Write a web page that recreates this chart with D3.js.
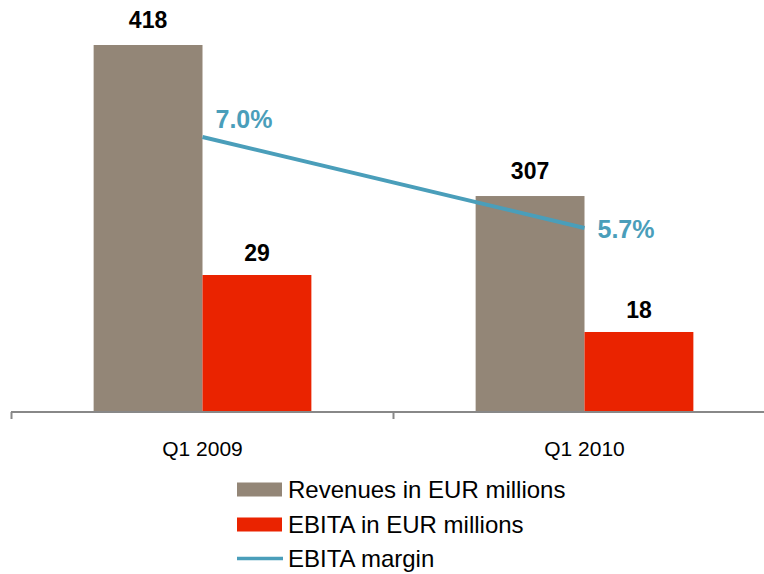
<!DOCTYPE html>
<html>

<head>
  <meta charset="utf-8">
  <title>Revenues and EBITA</title>
  <style>
    body { margin: 0; background: #fff; }
    text { font-family: "Liberation Sans", Arial, sans-serif; }
  </style>
</head>

<body>
  <script src="https://d3js.org/d3.v7.min.js" charset="utf-8"></script>
  <script type="text/javascript">
    var categories = ['Q1 2009', 'Q1 2010'];
    var revenues = [418, 307];
    var ebita = [29, 18];
    var margin = [7.0, 5.7];
    var marginLabels = ['7.0%', '5.7%'];
    var legendLabels = ['Revenues in EUR millions', 'EBITA in EUR millions', 'EBITA margin'];

    var svgW = 764;
    var svgH = 574;
    var baseY = 411;
    var grey = '#938677';
    var red = '#EA2300';
    var blue = '#4A9EBA';

    var svg = d3.select('body').append('svg')
      .attr('width', svgW).attr('height', svgH);

    // category bands, the second one runs past the right edge like the original
    var x = d3.scaleBand().domain(categories).range([11.5, 775.5])
      .paddingInner(0.43).paddingOuter(0.215);
    var x1 = d3.scaleBand().domain(['rev', 'ebita']).range([0, x.bandwidth()]);

    // each series sits on its own truncated axis
    var yRev = d3.scaleLinear().domain([149, 418]).range([baseY, 45]);
    var yEbita = d3.scaleLinear().domain([2.75, 29]).range([baseY, 275]);
    var yMargin = d3.scaleLinear().domain([5.7, 7.0]).range([228, 137]);

    var groups = svg.selectAll('g.grp').data(categories).enter().append('g')
      .attr('class', 'grp')
      .attr('transform', function(d) { return 'translate(' + x(d) + ',0)'; });

    groups.append('rect')
      .attr('x', x1('rev'))
      .attr('width', x1.bandwidth())
      .attr('y', function(d, i) { return yRev(revenues[i]); })
      .attr('height', function(d, i) { return baseY - yRev(revenues[i]); })
      .attr('fill', grey);

    groups.append('rect')
      .attr('x', x1('ebita'))
      .attr('width', x1.bandwidth())
      .attr('y', function(d, i) { return yEbita(ebita[i]); })
      .attr('height', function(d, i) { return baseY - yEbita(ebita[i]); })
      .attr('fill', red);

    // value labels
    groups.append('text')
      .text(function(d, i) { return revenues[i]; })
      .attr('x', x1('rev') + x1.bandwidth() / 2)
      .attr('y', function(d, i) { return yRev(revenues[i]) - 17; })
      .attr('text-anchor', 'middle').attr('font-weight', 'bold').attr('font-size', '23px').attr('fill', '#000');

    groups.append('text')
      .text(function(d, i) { return ebita[i]; })
      .attr('x', x1('ebita') + x1.bandwidth() / 2)
      .attr('y', function(d, i) { return yEbita(ebita[i]) - 14; })
      .attr('text-anchor', 'middle').attr('font-weight', 'bold').attr('font-size', '23px').attr('fill', '#000');

    // axis: line, ticks on band boundaries, labels at centres
    var axisG = svg.append('g');
    axisG.append('line')
      .attr('x1', 11).attr('x2', svgW).attr('y1', 412).attr('y2', 412)
      .attr('stroke', '#888').attr('stroke-width', 2);
    axisG.selectAll('line.tick').data(categories).enter().append('line')
      .attr('class', 'tick')
      .attr('x1', function(d) { return x(d) - x.step() * 0.215; })
      .attr('x2', function(d) { return x(d) - x.step() * 0.215; })
      .attr('y1', 412).attr('y2', 419)
      .attr('stroke', '#888').attr('stroke-width', 2);
    axisG.selectAll('text').data(categories).enter().append('text')
      .text(function(d) { return d; })
      .attr('x', function(d) { return x(d) + x.bandwidth() / 2; })
      .attr('y', 456)
      .attr('text-anchor', 'middle').attr('font-size', '21px').attr('fill', '#000');

    // margin line
    var lineX = function(d, i) { return x(categories[i]) + x1('ebita'); };
    var line = d3.line()
      .x(function(d, i) { return lineX(d, i); })
      .y(function(d) { return yMargin(d); });

    svg.append('path').datum(margin)
      .attr('d', line)
      .attr('fill', 'none').attr('stroke', blue).attr('stroke-width', 4);

    var labelDy = [-9, 10];
    svg.selectAll('text.pct').data(margin).enter().append('text')
      .attr('class', 'pct')
      .text(function(d, i) { return marginLabels[i]; })
      .attr('x', function(d, i) { return lineX(d, i) + 13; })
      .attr('y', function(d, i) { return yMargin(d) + labelDy[i]; })
      .attr('font-weight', 'bold').attr('font-size', '25px').attr('fill', blue);

    // legend
    var legend = svg.append('g').attr('transform', 'translate(237,0)');
    var rowY = [489.5, 524.5, 558.5];
    var swatch = [grey, red, blue];

    legend.selectAll('rect').data([0, 1]).enter().append('rect')
      .attr('x', 0).attr('width', 45)
      .attr('y', function(d) { return rowY[d] - 7; })
      .attr('height', 14)
      .attr('fill', function(d) { return swatch[d]; });

    legend.append('line')
      .attr('x1', 0).attr('x2', 46).attr('y1', rowY[2]).attr('y2', rowY[2])
      .attr('stroke', blue).attr('stroke-width', 3.5);

    legend.selectAll('text').data(legendLabels).enter().append('text')
      .text(function(d) { return d; })
      .attr('x', 51)
      .attr('y', function(d, i) { return rowY[i] + 8; })
      .attr('font-size', '24px').attr('fill', '#000');
  </script>
</body>

</html>
